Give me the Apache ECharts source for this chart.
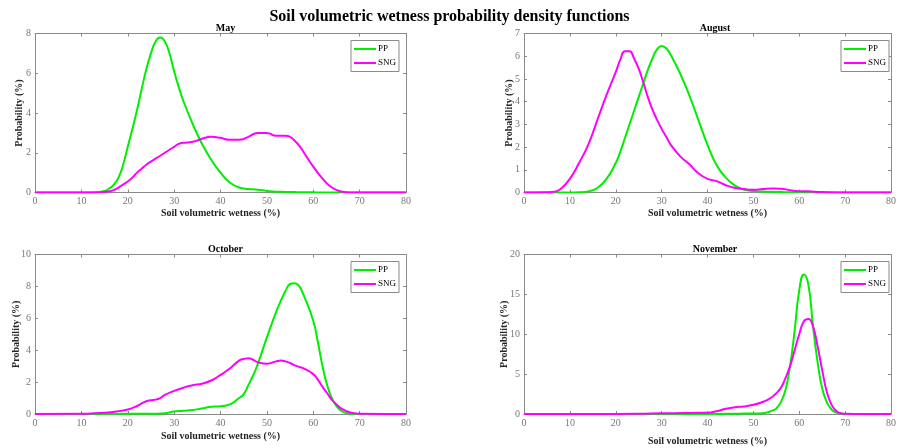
<!DOCTYPE html>
<html>
<head>
<meta charset="utf-8">
<script src="https://cdn.jsdelivr.net/npm/echarts@6/dist/echarts.min.js"></script>
<style>
  html, body { margin: 0; padding: 0; background: #fff; }
  #chart { width: 899px; height: 448px; }
</style>
</head>
<body>
<div id="chart"></div>
<script>
// ---- data ----
const seriesNames = ['PP', 'SNG']
const panelTitles = ['May', 'August', 'October', 'November']
const yMax = [8, 7, 10, 20]
const yStep = [2, 1, 2, 5]

// May
const mayX = [0, 10, 13, 15, 16, 17, 18, 19, 20, 21, 22, 23, 24, 25, 26, 27, 28, 29, 30, 31, 32, 34, 36, 38, 40, 42, 44, 46, 48, 50, 52, 54, 55, 56, 57, 58, 60, 62, 64, 66, 68, 70, 80]
const mayPP = [0, 0, 0.01, 0.08, 0.2, 0.4, 0.75, 1.4, 2.3, 3.2, 4.15, 5.2, 6.2, 7.0, 7.6, 7.8, 7.6, 7.0, 6.1, 5.3, 4.6, 3.45, 2.45, 1.65, 1.0, 0.5, 0.25, 0.18, 0.14, 0.08, 0.04, 0.03, 0.02, 0.02, 0.01, 0.01, 0.01, 0, 0, 0, 0, 0, 0]
const maySNG = [0, 0, 0, 0.02, 0.06, 0.12, 0.25, 0.4, 0.55, 0.75, 1.0, 1.2, 1.4, 1.55, 1.7, 1.85, 2.0, 2.15, 2.3, 2.45, 2.5, 2.55, 2.7, 2.8, 2.75, 2.65, 2.65, 2.8, 3.0, 3.0, 2.85, 2.85, 2.8, 2.6, 2.35, 2.0, 1.3, 0.7, 0.25, 0.05, 0, 0, 0]

// August
const augX = [0, 5, 7, 8, 10, 12, 14, 16, 18, 20, 21, 22, 23, 24, 25, 26, 27, 28, 29, 30, 31, 32, 34, 36, 38, 40, 42, 44, 46, 48, 50, 52, 54, 56, 58, 60, 62, 65, 70, 80]
const augPP = [0, 0, 0, 0, 0, 0.01, 0.05, 0.2, 0.6, 1.3, 1.8, 2.4, 3.0, 3.6, 4.2, 4.8, 5.4, 5.9, 6.3, 6.45, 6.35, 6.05, 5.25, 4.3, 3.2, 2.1, 1.2, 0.65, 0.3, 0.12, 0.07, 0.04, 0.03, 0.02, 0.01, 0.01, 0, 0, 0, 0]
const augSNG = [0, 0.01, 0.05, 0.15, 0.6, 1.3, 2.1, 3.2, 4.3, 5.3, 5.85, 6.22, 6.22, 5.9, 5.45, 4.85, 4.2, 3.65, 3.2, 2.8, 2.45, 2.1, 1.6, 1.25, 0.85, 0.6, 0.5, 0.32, 0.2, 0.15, 0.12, 0.15, 0.18, 0.17, 0.1, 0.06, 0.05, 0.02, 0, 0]

// October
const octX = [0, 10, 12, 15, 18, 20, 22, 24, 26, 27, 28, 30, 32, 34, 36, 38, 40, 42, 44, 45, 46, 47, 48, 50, 52, 53, 54, 55, 56, 57, 58, 60, 61, 62, 63, 64, 65, 66, 67, 68, 70, 80]
const octPP = [0, 0, 0, 0.01, 0.02, 0.02, 0.02, 0.01, 0.01, 0.03, 0.05, 0.15, 0.2, 0.25, 0.35, 0.45, 0.48, 0.6, 1.0, 1.25, 1.8, 2.4, 3.1, 4.8, 6.4, 7.1, 7.7, 8.15, 8.2, 8.0, 7.4, 5.85, 4.5, 3.0, 1.8, 1.0, 0.5, 0.2, 0.07, 0.02, 0, 0]
const octSNG = [0, 0.01, 0.03, 0.08, 0.18, 0.28, 0.5, 0.8, 0.9, 1.0, 1.2, 1.45, 1.65, 1.8, 1.9, 2.1, 2.45, 2.85, 3.35, 3.45, 3.5, 3.4, 3.25, 3.15, 3.3, 3.35, 3.3, 3.2, 3.05, 2.95, 2.85, 2.5, 2.15, 1.7, 1.3, 0.9, 0.6, 0.35, 0.2, 0.1, 0.02, 0]

// November
const novX = [0, 20, 25, 30, 35, 38, 40, 42, 44, 46, 48, 50, 52, 53, 54, 55, 56, 57, 58, 59, 60, 61, 62, 63, 64, 65, 66, 67, 68, 69, 70, 72, 80]
const novPP = [0, 0, 0, 0, 0, 0, 0, 0, 0.02, 0.03, 0.05, 0.05, 0.1, 0.2, 0.4, 0.7, 1.5, 3.0, 6.0, 10.5, 15.5, 17.5, 16.2, 11.0, 6.5, 3.2, 1.5, 0.6, 0.2, 0.05, 0, 0, 0]
const novSNG = [0, 0, 0.02, 0.08, 0.12, 0.15, 0.15, 0.35, 0.65, 0.85, 0.95, 1.15, 1.5, 1.75, 2.1, 2.6, 3.3, 4.5, 6.0, 8.0, 10.0, 11.6, 11.9, 11.0, 8.5, 5.5, 2.8, 1.2, 0.4, 0.1, 0.02, 0, 0]

const panelX = [mayX, augX, octX, novX]
const panelPP = [mayPP, augPP, octPP, novPP]
const panelSNG = [maySNG, augSNG, octSNG, novSNG]

// ---- layout ----
const grids = [
  { left: 35, top: 33.5, width: 371, height: 159 },
  { left: 524, top: 33.5, width: 372, height: 159 },
  { left: 35, top: 254.5, width: 371, height: 159.5 },
  { left: 524, top: 254.5, width: 372, height: 159.5 },
]
const yNameGap = [11, 10, 14, 15]
const xNameGap = [16, 16, 17, 22]
const lineColors = ['#00ee00', '#ff00ff']
const axisGray = '#8a8a8a'
const font = '"Liberation Serif", "Times New Roman", serif'

const xAxes = []
const yAxes = []
const series = []
const titles = [{
  text: 'Soil volumetric wetness probability density functions',
  left: 'center', top: 4,
  textStyle: { fontFamily: font, fontSize: 16, fontWeight: 'bold', color: '#000' },
}]
const legends = []

grids.forEach((g, i) => {
  const tickStyle = { show: true, inside: true, length: 3, lineStyle: { color: axisGray } }
  const lineStyle = { show: true, onZero: false, lineStyle: { color: axisGray } }
  // bottom / left axes with labels
  xAxes.push({
    gridIndex: i, type: 'value', min: 0, max: 80, interval: 10, position: 'bottom',
    name: 'Soil volumetric wetness (%)', nameLocation: 'middle', nameGap: xNameGap[i],
    nameMoveOverlap: false,
    nameTextStyle: { fontFamily: font, fontSize: 10, fontWeight: 'bold', color: '#262626' },
    axisLine: lineStyle,
    axisTick: tickStyle,
    axisLabel: { fontFamily: font, fontSize: 10, color: '#777', margin: 4 },
    splitLine: { show: false },
  })
  yAxes.push({
    gridIndex: i, type: 'value', min: 0, max: yMax[i], interval: yStep[i], position: 'left',
    name: 'Probability (%)', nameLocation: 'middle', nameGap: yNameGap[i],
    nameMoveOverlap: false,
    nameTextStyle: { fontFamily: font, fontSize: 10, fontWeight: 'bold', color: '#262626' },
    axisLine: lineStyle,
    axisTick: tickStyle,
    axisLabel: { fontFamily: font, fontSize: 10, color: '#777', margin: 4 },
    splitLine: { show: false },
  })
  // top / right axes to close the box
  xAxes.push({
    gridIndex: i, type: 'value', min: 0, max: 80, interval: 10, position: 'top',
    axisLine: lineStyle,
    axisTick: tickStyle, axisLabel: { show: false }, splitLine: { show: false },
  })
  yAxes.push({
    gridIndex: i, type: 'value', min: 0, max: yMax[i], interval: yStep[i], position: 'right',
    axisLine: lineStyle,
    axisTick: tickStyle, axisLabel: { show: false }, splitLine: { show: false },
  })

  titles.push({
    text: panelTitles[i],
    left: g.left + g.width / 2, top: g.top - 15, textAlign: 'center',
    textStyle: { fontFamily: font, fontSize: 10, fontWeight: 'bold', color: '#000' },
  })

  const data = [panelPP[i], panelSNG[i]]
  seriesNames.forEach((name, k) => {
    series.push({
      name, type: 'line', xAxisIndex: i * 2, yAxisIndex: i * 2,
      data: panelX[i].map((x, j) => [x, data[k][j]]),
      smooth: 0.5, symbol: 'none',
      lineStyle: { color: lineColors[k], width: 2 },
      itemStyle: { color: lineColors[k] },
    })
  })

  legends.push({
    data: seriesNames, orient: 'vertical',
    right: 899 - (g.left + g.width) + 7, top: g.top + 7,
    icon: 'rect', itemWidth: 22, itemHeight: 2, itemGap: 5,
    padding: [4, 3, 4, 3],
    backgroundColor: '#fff', borderColor: axisGray, borderWidth: 1,
    textStyle: { fontFamily: font, fontSize: 9, color: '#000', padding: [0, 0, 0, -3] },
  })
})

const chart = echarts.init(document.getElementById('chart'))
chart.setOption({
  animation: false,
  backgroundColor: '#fff',
  title: titles,
  legend: legends,
  grid: grids,
  xAxis: xAxes,
  yAxis: yAxes,
  series,
})
</script>
</body>
</html>
